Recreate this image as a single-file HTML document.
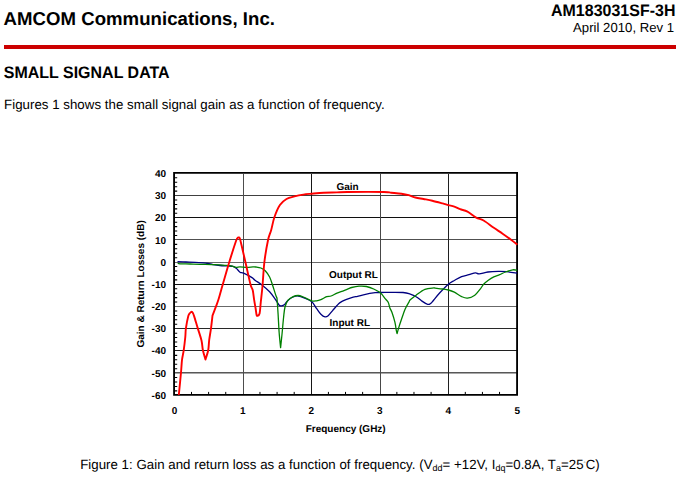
<!DOCTYPE html>
<html>
<head>
<meta charset="utf-8">
<title>AM183031SF-3H</title>
<style>
html,body{margin:0;padding:0;background:#fff;}
body{text-rendering:geometricPrecision;width:683px;height:485px;position:relative;overflow:hidden;font-family:"Liberation Sans",sans-serif;color:#000;}
.t{position:absolute;white-space:nowrap;line-height:1;transform:skewX(0.4deg);transform-origin:50% 50%;}
#co{left:4px;top:10px;font-size:18.67px;font-weight:bold;transform:translate(-0.6px,0px) skewX(0.4deg);}
#pn{left:551px;top:3px;font-size:16px;font-weight:bold;transform:translate(0px,1.3px) skewX(0.4deg) scaleY(1.04);transform-origin:50% 13.5px;}
#dt{left:573px;top:20px;font-size:13.2px;transform:translate(0px,0.73px) skewX(0.4deg);}
#rule{position:absolute;left:4px;top:44.5px;width:672px;height:4px;background:#cc0000;}
#h1{left:4px;top:65px;font-size:16px;font-weight:bold;transform:translate(-0.25px,1.2px) skewX(0.4deg) scaleY(1.04);transform-origin:50% 13.5px;}
#p1{left:4px;top:97px;font-size:13.33px;transform:translate(0px,0.6px) skewX(0.4deg);}
#cap{left:80px;top:457px;font-size:13.33px;transform:translate(0.1px,0.6px) skewX(0.4deg);}
#cap sub{font-size:9px;vertical-align:baseline;position:relative;top:2px;line-height:0;}
#cap sup{font-size:6px;vertical-align:baseline;position:relative;top:-5px;line-height:0;}
svg{position:absolute;left:0;top:0;}
svg text{text-rendering:geometricPrecision;font-family:"Liberation Sans",sans-serif;font-weight:bold;font-size:10px;fill:#000;}
</style>
</head>
<body>
<div class="t" id="co">AMCOM Communications, Inc.</div>
<div class="t" id="pn">AM183031SF-3H</div>
<div class="t" id="dt">April 2010, Rev 1</div>
<div id="rule"></div>
<div class="t" id="h1">SMALL SIGNAL DATA</div>
<div class="t" id="p1">Figures 1 shows the small signal gain as a function of frequency.</div>

<svg width="683" height="485" viewBox="0 0 683 485">
<g shape-rendering="crispEdges">
<rect x="175" y="195" width="342" height="1" fill="#404040"/>
<rect x="175" y="217" width="342" height="1" fill="#101010"/>
<rect x="175" y="239" width="342" height="1" fill="#505050"/>
<rect x="175" y="262" width="342" height="1" fill="#686868"/>
<rect x="175" y="284" width="342" height="1" fill="#101010"/>
<rect x="175" y="306" width="342" height="1" fill="#686868"/>
<rect x="175" y="328" width="342" height="1" fill="#282828"/>
<rect x="175" y="350" width="342" height="1" fill="#202020"/>
<rect x="175" y="372" width="342" height="1" fill="#585858"/>
<rect x="175" y="373" width="342" height="1" fill="#a8a8a8"/>
<rect x="243" y="174" width="1" height="220" fill="#4d4d4d"/>
<rect x="311" y="174" width="1" height="220" fill="#161616"/>
<rect x="380" y="174" width="1" height="220" fill="#484848"/>
<rect x="448" y="174" width="1" height="220" fill="#202020"/>
</g>
<path d="M175 177.79h2.2M175 182.23h2.2M175 186.67h2.2M175 191.11h2.2M175 199.98h2.2M175 204.42h2.2M175 208.86h2.2M175 213.30h2.2M175 222.18h2.2M175 226.62h2.2M175 231.06h2.2M175 235.50h2.2M175 244.37h2.2M175 248.81h2.2M175 253.25h2.2M175 257.69h2.2M175 266.57h2.2M175 271.01h2.2M175 275.45h2.2M175 279.89h2.2M175 288.76h2.2M175 293.20h2.2M175 297.64h2.2M175 302.08h2.2M175 310.96h2.2M175 315.40h2.2M175 319.84h2.2M175 324.28h2.2M175 333.15h2.2M175 337.59h2.2M175 342.03h2.2M175 346.47h2.2M175 355.35h2.2M175 359.79h2.2M175 364.23h2.2M175 368.67h2.2M175 377.54h2.2M175 381.98h2.2M175 386.42h2.2M175 390.86h2.2" stroke="#000" stroke-width="1.05" fill="none"/>
<path d="M191.51 394v-2.1M208.62 394v-2.1M225.74 394v-2.1M259.96 394v-2.1M277.08 394v-2.1M294.19 394v-2.1M328.41 394v-2.1M345.52 394v-2.1M362.64 394v-2.1M396.86 394v-2.1M413.98 394v-2.1M431.09 394v-2.1M465.31 394v-2.1M482.43 394v-2.1M499.54 394v-2.1" stroke="#000" stroke-width="1" fill="none"/>
<path fill="#000" fill-rule="evenodd" d="M173.15 172.1H518V395.8H173.15ZM175 173.85H516.15V394H175Z"/>
<path fill="none" stroke="#000080" stroke-width="1.3" stroke-linejoin="round" d="M177.50 261.70C178.92 261.75 183.08 261.90 186.00 262.00C188.92 262.10 192.17 262.15 195.00 262.30C197.83 262.45 200.83 262.70 203.00 262.90C205.17 263.10 206.33 263.22 208.00 263.50C209.67 263.78 211.00 264.27 213.00 264.60C215.00 264.93 217.50 265.28 220.00 265.50C222.50 265.72 225.83 265.75 228.00 265.90C230.17 266.05 231.58 265.97 233.00 266.40C234.42 266.83 235.33 267.53 236.50 268.50C237.67 269.47 238.82 271.42 240.00 272.20C241.18 272.98 241.60 272.30 243.60 273.20C245.60 274.10 250.10 276.42 252.00 277.60C253.90 278.78 253.33 279.08 255.00 280.30C256.67 281.52 259.57 282.98 262.00 284.90C264.43 286.82 267.35 289.37 269.60 291.80C271.85 294.23 273.90 297.27 275.50 299.50C277.10 301.73 278.22 304.15 279.20 305.20C280.18 306.25 280.55 305.87 281.40 305.80C282.25 305.73 283.22 305.70 284.30 304.80C285.38 303.90 286.43 301.70 287.90 300.40C289.37 299.10 291.38 297.73 293.10 297.00C294.82 296.27 296.25 295.80 298.20 296.00C300.15 296.20 302.53 297.23 304.80 298.20C307.07 299.17 309.85 300.10 311.80 301.80C313.75 303.50 314.98 306.32 316.50 308.40C318.02 310.48 319.48 312.88 320.90 314.30C322.32 315.72 323.78 316.67 325.00 316.90C326.22 317.13 326.93 316.75 328.20 315.70C329.47 314.65 331.13 312.30 332.60 310.60C334.07 308.90 335.77 306.83 337.00 305.50C338.23 304.17 338.52 303.57 340.00 302.60C341.48 301.63 343.70 300.60 345.90 299.70C348.10 298.80 351.25 297.75 353.20 297.20C355.15 296.65 355.90 296.80 357.60 296.40C359.30 296.00 360.48 295.42 363.40 294.80C366.32 294.18 372.23 293.08 375.10 292.70C377.97 292.32 375.95 292.53 380.60 292.50C385.25 292.47 398.05 292.22 403.00 292.50C407.95 292.78 408.12 293.50 410.30 294.20C412.48 294.90 414.15 295.55 416.10 296.70C418.05 297.85 420.43 299.98 422.00 301.10C423.57 302.22 424.57 302.87 425.50 303.40C426.43 303.93 426.95 304.15 427.60 304.30C428.25 304.45 428.83 304.48 429.40 304.30C429.97 304.12 430.53 303.60 431.00 303.20C431.47 302.80 431.73 302.43 432.20 301.90C432.67 301.37 432.57 301.48 433.80 300.00C435.03 298.52 437.17 295.63 439.60 293.00C442.03 290.37 445.95 286.28 448.40 284.20C450.85 282.12 452.10 281.77 454.30 280.50C456.50 279.23 459.17 277.57 461.60 276.60C464.03 275.63 466.58 275.32 468.90 274.70C471.22 274.08 473.78 273.03 475.50 272.90C477.22 272.77 477.12 274.05 479.20 273.90C481.28 273.75 484.83 272.42 488.00 272.00C491.17 271.58 495.03 271.45 498.20 271.40C501.37 271.35 503.83 271.40 507.00 271.70C510.17 272.00 515.50 272.95 517.20 273.20"/>
<path fill="none" stroke="#008000" stroke-width="1.3" stroke-linejoin="round" d="M177.70 263.10C178.08 263.22 177.95 263.65 180.00 263.80C182.05 263.95 186.67 263.92 190.00 264.00C193.33 264.08 195.83 264.18 200.00 264.30C204.17 264.42 210.83 264.53 215.00 264.70C219.17 264.87 222.33 265.10 225.00 265.30C227.67 265.50 229.17 265.57 231.00 265.90C232.83 266.23 234.50 267.13 236.00 267.30C237.50 267.47 238.17 266.87 240.00 266.90C241.83 266.93 244.83 267.50 247.00 267.50C249.17 267.50 251.50 266.98 253.00 266.90C254.50 266.82 254.68 266.82 256.00 267.00C257.32 267.18 259.37 267.37 260.90 268.00C262.43 268.63 263.75 269.30 265.20 270.80C266.65 272.30 268.37 274.58 269.60 277.00C270.83 279.42 271.62 282.40 272.60 285.30C273.58 288.20 274.77 292.25 275.50 294.40C276.23 296.55 276.75 297.57 277.00 298.20C277.18 300.88 277.73 308.45 278.10 314.30C278.47 320.15 278.78 327.73 279.20 333.30C279.62 338.87 280.37 345.30 280.60 347.70C280.85 345.30 281.60 338.38 282.10 333.30C282.60 328.22 283.12 321.58 283.60 317.20C284.08 312.82 284.28 309.80 285.00 307.00C285.72 304.20 286.55 302.12 287.90 300.40C289.25 298.68 291.38 297.52 293.10 296.70C294.82 295.88 296.50 295.45 298.20 295.50C299.90 295.55 301.03 296.12 303.30 297.00C305.57 297.88 309.60 300.17 311.80 300.80C314.00 301.43 314.98 301.00 316.50 300.80C318.02 300.60 319.20 300.28 320.90 299.60C322.60 298.92 325.00 297.30 326.70 296.70C328.40 296.10 329.38 296.60 331.10 296.00C332.82 295.40 335.05 293.92 337.00 293.10C338.95 292.28 340.85 291.83 342.80 291.10C344.75 290.37 347.22 289.30 348.70 288.70C350.18 288.10 349.98 287.92 351.70 287.50C353.42 287.08 356.55 286.37 359.00 286.20C361.45 286.03 363.95 286.03 366.40 286.50C368.85 286.97 371.33 287.90 373.70 289.00C376.07 290.10 378.65 291.45 380.60 293.10C382.55 294.75 384.12 297.33 385.40 298.90C386.68 300.47 387.57 301.03 388.30 302.50C389.03 303.97 389.18 306.03 389.80 307.70C390.42 309.37 391.15 310.08 392.00 312.50C392.85 314.92 394.17 319.12 394.90 322.20C395.63 325.28 396.03 329.10 396.40 331.00C396.77 332.90 396.98 333.17 397.10 333.60C397.35 332.68 397.87 330.48 398.60 328.10C399.33 325.72 400.40 322.48 401.50 319.30C402.60 316.12 403.98 311.82 405.20 309.00C406.42 306.18 407.95 303.95 408.80 302.40C409.65 300.85 409.08 300.90 410.30 299.70C411.52 298.50 413.67 296.92 416.10 295.20C418.53 293.48 421.97 290.62 424.90 289.40C427.83 288.18 431.98 288.12 433.70 287.90C435.42 287.68 433.72 287.92 435.20 288.10C436.68 288.28 440.40 288.68 442.60 289.00C444.80 289.32 446.45 289.47 448.40 290.00C450.35 290.53 452.10 291.10 454.30 292.20C456.50 293.30 459.40 295.62 461.60 296.60C463.80 297.58 465.30 298.33 467.50 298.10C469.70 297.87 472.62 296.78 474.80 295.20C476.98 293.62 479.13 290.43 480.60 288.60C482.07 286.77 482.37 285.55 483.60 284.20C484.83 282.85 486.30 281.72 488.00 280.50C489.70 279.28 491.85 277.87 493.80 276.90C495.75 275.93 497.75 275.52 499.70 274.70C501.65 273.88 503.32 272.82 505.50 272.00C507.68 271.18 510.85 270.08 512.80 269.80C514.75 269.52 516.47 270.22 517.20 270.30"/>
<path fill="none" stroke="#ff0000" stroke-width="1.9" stroke-linejoin="round" d="M178.80 395.00C179.17 391.25 180.47 378.33 181.00 372.50C181.53 366.67 181.55 363.68 182.00 360.00C182.45 356.32 183.15 354.23 183.70 350.40C184.25 346.57 184.93 340.67 185.30 337.00C185.67 333.33 185.40 331.90 185.90 328.40C186.40 324.90 187.62 318.57 188.30 316.00C188.98 313.43 189.43 313.72 190.00 313.00C190.57 312.28 191.20 311.67 191.70 311.70C192.20 311.73 192.58 312.42 193.00 313.20C193.42 313.98 193.40 313.87 194.20 316.40C195.00 318.93 196.58 324.38 197.80 328.40C199.02 332.42 200.65 336.85 201.50 340.50C202.35 344.15 202.23 347.13 202.90 350.30C203.57 353.47 205.07 357.97 205.50 359.50C205.95 357.97 207.58 353.55 208.20 350.30C208.82 347.05 208.73 343.65 209.20 340.00C209.67 336.35 210.45 332.47 211.00 328.40C211.55 324.33 212.25 317.73 212.50 315.60C213.10 314.02 215.13 308.70 216.10 306.10C217.07 303.50 217.45 302.68 218.30 300.00C219.15 297.32 219.37 296.33 221.20 290.00C223.03 283.67 226.83 270.17 229.30 262.00C231.77 253.83 234.63 245.00 236.00 241.00C237.37 237.00 237.08 238.58 237.50 238.00C237.92 237.42 238.13 237.47 238.50 237.50C238.87 237.53 239.20 236.95 239.70 238.20C240.20 239.45 240.55 241.03 241.50 245.00C242.45 248.97 243.90 255.42 245.40 262.00C246.90 268.58 249.28 279.83 250.50 284.50C251.72 289.17 252.08 287.38 252.70 290.00C253.32 292.62 253.70 297.03 254.20 300.20C254.70 303.37 255.32 306.62 255.70 309.00C256.08 311.38 256.22 313.37 256.50 314.50C256.78 315.63 256.88 315.98 257.40 315.80C257.92 315.62 259.03 315.70 259.60 313.40C260.17 311.10 260.32 306.57 260.80 302.00C261.28 297.43 261.90 292.67 262.50 286.00C263.10 279.33 263.48 269.63 264.40 262.00C265.32 254.37 266.87 245.53 268.00 240.20C269.13 234.87 270.13 233.82 271.20 230.00C272.27 226.18 272.95 221.45 274.40 217.30C275.85 213.15 277.88 208.15 279.90 205.10C281.92 202.05 284.07 200.45 286.50 199.00C288.93 197.55 291.70 197.13 294.50 196.40C297.30 195.67 300.42 195.05 303.30 194.60C306.18 194.15 308.38 194.02 311.80 193.70C315.22 193.38 319.60 192.92 323.80 192.70C328.00 192.48 333.08 192.52 337.00 192.40C340.92 192.28 339.48 192.07 347.30 192.00C355.12 191.93 376.58 191.88 383.90 192.00C391.22 192.12 388.27 192.42 391.20 192.70C394.13 192.98 398.57 193.28 401.50 193.70C404.43 194.12 406.48 194.57 408.80 195.20C411.12 195.83 412.95 196.87 415.40 197.50C417.85 198.13 420.68 198.47 423.50 199.00C426.32 199.53 429.12 199.97 432.30 200.70C435.48 201.43 439.92 202.67 442.60 203.40C445.28 204.13 446.45 204.57 448.40 205.10C450.35 205.63 452.35 205.92 454.30 206.60C456.25 207.28 457.90 208.35 460.10 209.20C462.30 210.05 464.82 210.30 467.50 211.70C470.18 213.10 473.52 216.13 476.20 217.60C478.88 219.07 480.67 218.80 483.60 220.50C486.53 222.20 490.63 225.60 493.80 227.80C496.97 230.00 499.67 231.67 502.60 233.70C505.53 235.73 508.95 238.17 511.40 240.00C513.85 241.83 516.32 243.92 517.30 244.70"/>
<g text-anchor="end">
<text x="166" y="177">40</text>
<text x="166" y="199">30</text>
<text x="166" y="221">20</text>
<text x="166" y="244">10</text>
<text x="166" y="266">0</text>
<text x="166" y="288">-10</text>
<text x="166" y="310">-20</text>
<text x="166" y="332">-30</text>
<text x="166" y="354">-40</text>
<text x="166" y="377">-50</text>
<text x="166" y="399">-60</text>
</g><g text-anchor="middle">
<text x="174.5" y="414">0</text>
<text x="242.9" y="414">1</text>
<text x="311.4" y="414">2</text>
<text x="379.9" y="414">3</text>
<text x="448.3" y="414">4</text>
<text x="517.4" y="414">5</text>
<text x="345.7" y="432">Frequency (GHz)</text>
<text transform="translate(143.9,283.9) rotate(-90)">Gain &amp; Return Losses (dB)</text>
</g>
<text x="336.4" y="190">Gain</text>
<text x="329" y="278">Output RL</text>
<text x="329.5" y="326">Input RL</text>
</svg>

<div class="t" id="cap">Figure 1: Gain and return loss as a function of frequency. (V<sub>dd</sub>= +12V, I<sub>dq</sub>=0.8A, T<sub>a</sub>=25<sup>◦</sup>C)</div>
</body>
</html>
